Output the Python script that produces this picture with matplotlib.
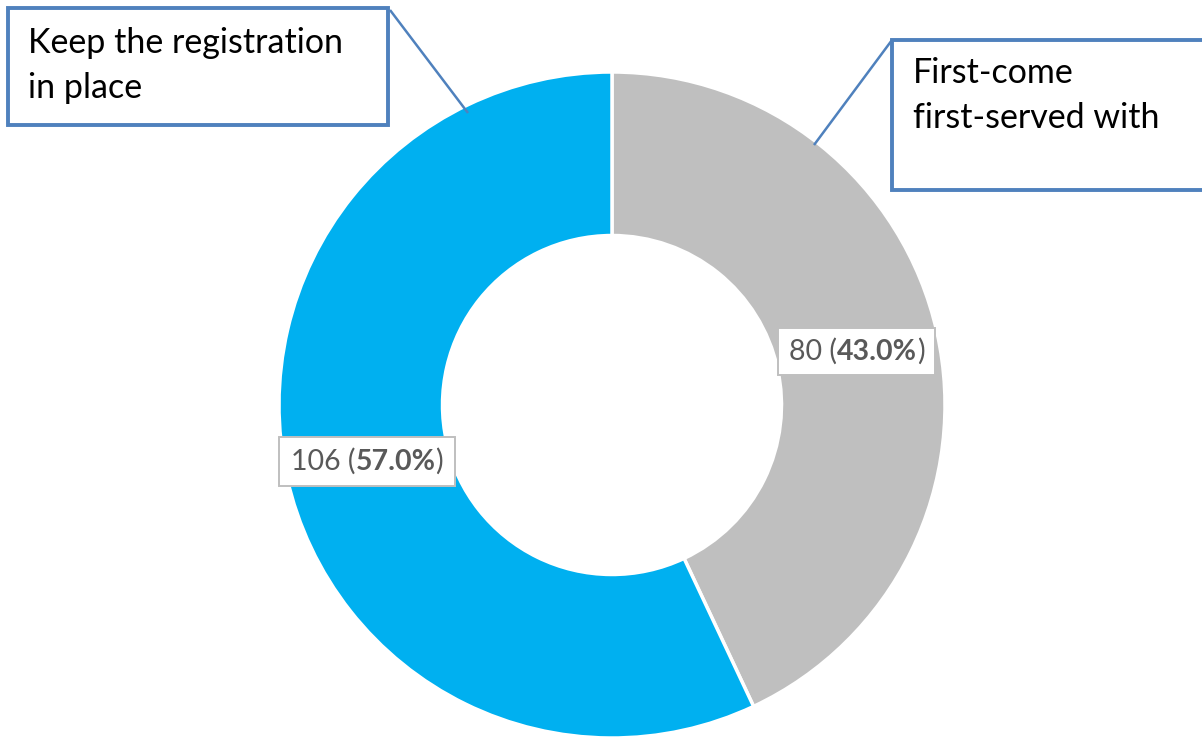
import matplotlib
matplotlib.use("Agg")
import matplotlib.pyplot as plt
from matplotlib.patches import Rectangle
from matplotlib.offsetbox import TextArea, HPacker, AnnotationBbox

# Survey responses
categories = ["First-come\nfirst-served with", "Keep the registration\nin place"]
counts = [80, 106]
colors = ["#BFBFBF", "#00B0F0"]

W, H = 1202, 740
FONT = "Lato"

fig = plt.figure(figsize=(W / 100, H / 100), dpi=100)
ax = fig.add_axes([0, 0, 1, 1])


def Y(py):
    """Convert a top-down pixel row into the y-up axes coordinate."""
    return H - py


cx, cy, radius, ring = 612, Y(405), 333, 163.5
ax.pie(counts, colors=colors, startangle=90, counterclock=False,
       center=(cx, cy), radius=radius,
       wedgeprops=dict(width=ring, edgecolor="white", linewidth=2.5))
ax.set_xlim(0, W)
ax.set_ylim(0, H)
ax.set_aspect("equal")
ax.axis("off")

# Value labels: "count (percent)" with the percentage in bold
total = sum(counts)
label_boxes = [(778, 328, 157, 47), (279, 437, 176, 49)]
for c, (bx, by, bw, bh) in zip(counts, label_boxes):
    ax.add_patch(Rectangle((bx, Y(by + bh)), bw, bh, facecolor="white",
                           edgecolor="#BFBFBF", linewidth=1.4, zorder=3))
    tp = dict(color="#595959", fontsize=20.5, family=FONT)
    parts = [TextArea(f"{c} (", textprops=tp),
             TextArea(f"{100 * c / total:.1f}%", textprops={**tp, "fontweight": "bold"}),
             TextArea(")", textprops=tp)]
    pack = HPacker(children=parts, align="baseline", pad=0, sep=0)
    ab = AnnotationBbox(pack, (bx + bw / 2, Y(by + bh / 2)), frameon=False,
                        box_alignment=(0.5, 0.5), zorder=4)
    ax.add_artist(ab)

# Category callouts with leader lines
callouts = [
    # (box x, y, w, h, text x, first baseline, leader from, leader to)
    (892, 40, 340, 150, 913, 83, (892, 40), (814, 145)),
    (8, 8, 380, 117, 28, 53, (390, 10), (468, 113)),
]
line_gap = 45
blue = "#4F81BD"
for name, (bx, by, bw, bh, tx, ty, p0, p1) in zip(categories, callouts):
    ax.add_patch(Rectangle((bx, Y(by + bh)), bw, bh, facecolor="white",
                           edgecolor=blue, linewidth=2.8, zorder=5, clip_on=False))
    for i, line in enumerate(name.split("\n")):
        ax.text(tx, Y(ty + i * line_gap), line, ha="left", va="baseline",
                fontsize=24.5, family=FONT, color="black", zorder=6)
    ax.plot([p0[0], p1[0]], [Y(p0[1]), Y(p1[1])], color=blue, linewidth=1.8,
            zorder=4, solid_capstyle="butt")

fig.savefig("out.png", dpi=100)
